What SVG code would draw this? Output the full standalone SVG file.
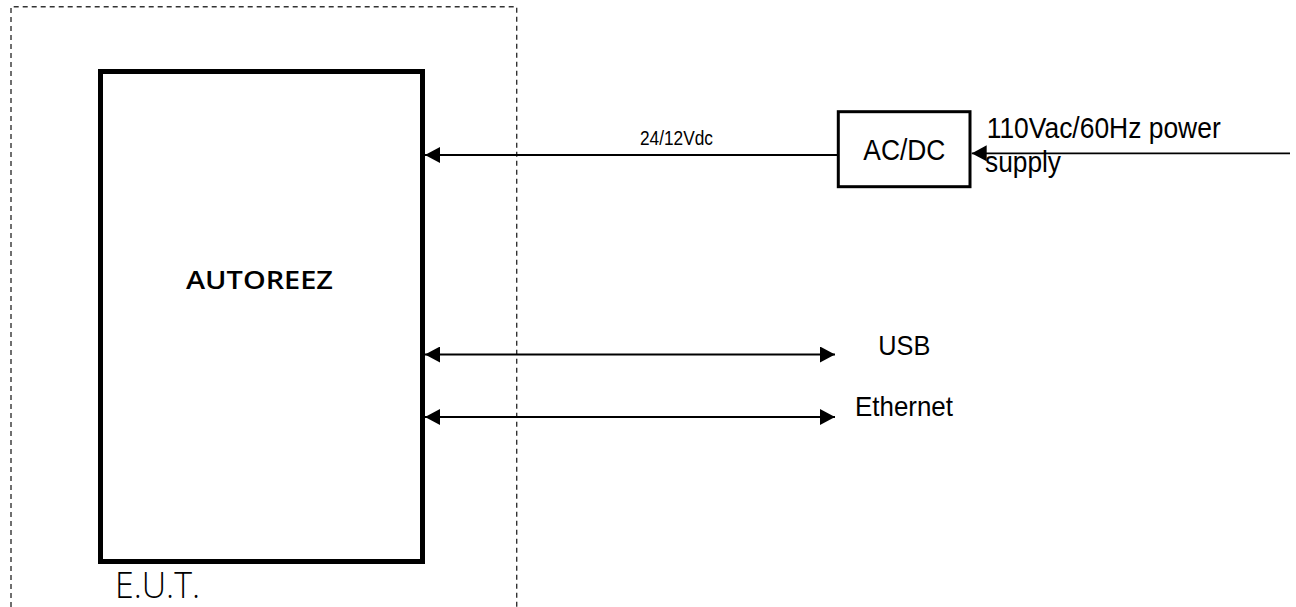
<svg xmlns="http://www.w3.org/2000/svg" width="1296" height="607" viewBox="0 0 1296 607">
<style>
.lbl{font-family:"Liberation Sans",Arial,sans-serif;fill:#000}
.box{fill:#fff;stroke:#000}
.wire{stroke:#000;stroke-width:1.8;fill:none}
.eut{stroke:#333;stroke-width:1.4;stroke-dasharray:5 4;fill:none}
</style>
<defs>
<marker id="ah" viewBox="0 0 15 16" refX="15" refY="8" markerWidth="15" markerHeight="16" markerUnits="userSpaceOnUse" orient="auto-start-reverse">
<path d="M0,0 L15,8 L0,16 Z" fill="#000"/>
</marker>
</defs>
<g id="eut-boundary">
<path class="eut" d="M11,607 L11,6.7 L516.7,6.7 L516.7,607"/>
<text class="lbl" x="115" y="598.3" style="font-family:'Open Sans','Noto Sans',sans-serif;font-weight:300" font-size="36" textLength="85" lengthAdjust="spacingAndGlyphs">E.U.T.</text>
</g>
<g id="autoreez">
<rect class="box" x="100.5" y="71.5" width="322" height="490" stroke-width="5"/>
<text class="lbl" x="186" y="289" style="font-family:'Open Sans','Noto Sans',sans-serif;font-weight:600" font-size="24.5" textLength="147" lengthAdjust="spacingAndGlyphs">AUTOREEZ</text>
</g>
<g id="acdc">
<rect class="box" x="838.3" y="111.7" width="131.7" height="75" stroke-width="3"/>
<text class="lbl" x="863.3" y="160" font-size="30" textLength="82" lengthAdjust="spacingAndGlyphs">AC/DC</text>
</g>
<g id="mains">
<text class="lbl" x="986.7" y="138.3" font-size="29.5" textLength="234" lengthAdjust="spacingAndGlyphs">110Vac/60Hz power</text>
<text class="lbl" x="985" y="171.7" font-size="29.5" textLength="76" lengthAdjust="spacingAndGlyphs">supply</text>
</g>
<g id="usb">
<text class="lbl" x="878.3" y="355" font-size="28" textLength="52" lengthAdjust="spacingAndGlyphs">USB</text>
</g>
<g id="ethernet">
<text class="lbl" x="855" y="415.5" font-size="28" textLength="98" lengthAdjust="spacingAndGlyphs">Ethernet</text>
</g>
<g id="connectors">
<line class="wire" x1="838.3" y1="155" x2="425" y2="155" marker-end="url(#ah)"/>
<text class="lbl" x="640" y="145" font-size="20" textLength="73" lengthAdjust="spacingAndGlyphs">24/12Vdc</text>
<line class="wire" x1="1290" y1="153.3" x2="971.7" y2="153.3" marker-end="url(#ah)"/>
<line class="wire" x1="425" y1="354.5" x2="835" y2="354.5" marker-start="url(#ah)" marker-end="url(#ah)"/>
<line class="wire" x1="425" y1="417" x2="835" y2="417" marker-start="url(#ah)" marker-end="url(#ah)"/>
</g>
</svg>
